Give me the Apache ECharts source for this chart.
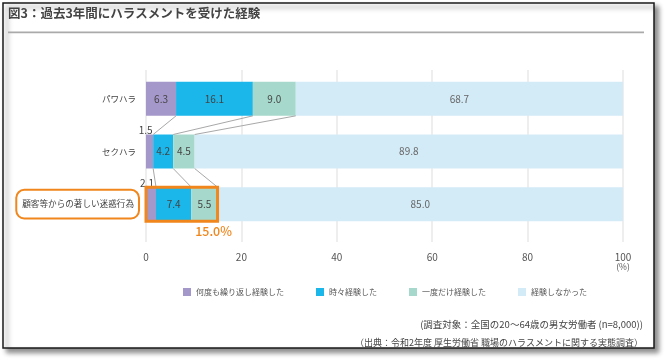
<!DOCTYPE html>
<html><head><meta charset="utf-8">
<script src="https://cdn.jsdelivr.net/npm/echarts@6/dist/echarts.min.js"></script>
<style>html,body{margin:0;padding:0;background:#fff}#c{width:665px;height:361px}</style>
</head><body><div id="c"></div>
<script>
const categories = ['パワハラ', 'セクハラ', '顧客等からの著しい迷惑行為'];
const seriesNames = ['何度も繰り返し経験した', '時々経験した', '一度だけ経験した', '経験しなかった'];
const repeated = [6.3, 1.5, 2.1];
const sometimes = [16.1, 4.2, 7.4];
const once = [9.0, 4.5, 5.5];
const never = [68.7, 89.8, 85.0];
const xTicks = [0, 20, 40, 60, 80, 100];
const highlightIndex = 2;
const titleText = '図3：過去3年間にハラスメントを受けた経験';
const note1 = '(調査対象：全国の20～64歳の男女労働者 (n=8,000))';
const note2 = '（出典：令和2年度 厚生労働省 職場のハラスメントに関する実態調査）';

const FONT = '"Noto Sans CJK JP", "Noto Sans", sans-serif';
const colors = ['#a497c9', '#1bb6ea', '#a6d9cb', '#d3eaf7'];
const BAR_H = 34;
const ORANGE = '#f0861c';
const allSeries = [repeated, sometimes, once, never];

// cumulative boundaries
const cum = categories.map((c, i) => {
  let s = 0; return allSeries.slice(0, 3).map(arr => (s += arr[i]));
});
const connectorData = [];
for (let i = 0; i < categories.length - 1; i++) {
  for (let j = 0; j < 3; j++) connectorData.push([cum[i][j], i, cum[i + 1][j], i + 1]);
}
const hlTotal = +(repeated[highlightIndex] + sometimes[highlightIndex] + once[highlightIndex]).toFixed(1);

function mkData(arr) {
  return arr.map(v => {
    if (v < 3) {
      return { value: v, label: { show: true, position: 'top', distance: 0, offset: [-4, 1] } };
    }
    return v;
  });
}

const barSeries = allSeries.map((arr, k) => ({
  name: seriesNames[k], type: 'bar', stack: 'all', xAxisIndex: 1, yAxisIndex: 0,
  barWidth: BAR_H, itemStyle: { color: colors[k] },
  label: { show: true, position: 'inside', color: k === 3 ? '#666' : '#444', fontSize: 10, fontFamily: FONT,
    formatter: p => p.value.toFixed(1) },
  data: mkData(arr), z: 2
}));

const chart = echarts.init(document.getElementById('c'), null, { renderer: 'canvas' });
chart.setOption({
  backgroundColor: '#fff',
  animation: false,
  textStyle: { fontFamily: FONT },
  graphic: [
    { type: 'rect', z: -100, shape: { x: 3, y: 3, width: 651, height: 345 },
      style: { fill: '#fff', stroke: '#1a1a1a', lineWidth: 1.5, shadowBlur: 5, shadowOffsetX: 4, shadowOffsetY: 4, shadowColor: 'rgba(0,0,0,0.45)' } },
    { type: 'text', left: 8, top: 7, style: { text: titleText, font: 'bold 12.5px ' + FONT, fill: '#444' } },
    { type: 'rect', shape: { x: 8, y: 31.5, width: 636, height: 1.8 }, style: { fill: '#aaaaaa' } },
    { type: 'text', x: 623, y: 267, style: { text: '(%)', font: '8.5px ' + FONT, fill: '#555', align: 'center', verticalAlign: 'middle' } },
    { type: 'text', x: 643, y: 324, style: { text: note1, font: '9.5px ' + FONT, fill: '#444', align: 'right', verticalAlign: 'middle' } },
    { type: 'text', x: 643, y: 342.5, style: { text: note2, font: '9px ' + FONT, fill: '#444', align: 'right', verticalAlign: 'middle' } }
  ],
  legend: {
    data: seriesNames, top: 283, left: 178, itemWidth: 8, itemHeight: 8, itemGap: 32,
    textStyle: { fontSize: 8, color: '#555', fontFamily: FONT }, icon: 'rect'
  },
  grid: [
    { left: 146, right: 42, top: 70, bottom: 119 },
    { left: 146, right: 42, top: 72.5, bottom: 130.5 }
  ],
  xAxis: [
    { gridIndex: 0, type: 'value', min: 0, max: 100, interval: 20,
      axisLine: { show: false }, axisTick: { show: false },
      splitLine: { lineStyle: { color: '#e8e8e8', width: 1.5 } },
      axisLabel: { color: '#555', fontSize: 10, margin: 10, fontFamily: FONT,
        formatter: v => xTicks.includes(v) ? String(v) : '' } },
    { gridIndex: 1, type: 'value', min: 0, max: 100, show: false, splitLine: { show: false } }
  ],
  yAxis: [
    { gridIndex: 1, type: 'category', data: categories, inverse: true,
      axisLine: { show: false }, axisTick: { show: false },
      axisLabel: { margin: 7, fontFamily: FONT,
        formatter: (v, i) => i === highlightIndex ? '{hl|' + v + '}' : '{n|' + v + '}',
        rich: {
          n: { fontSize: 8.5, color: '#444', padding: [0, 3, 0, 0], fontFamily: FONT },
          hl: { fontSize: 8.6, color: '#444', borderColor: ORANGE, borderWidth: 2, borderRadius: 8,
            padding: [10, 5, 10, 6], fontFamily: FONT }
        } } },
    { gridIndex: 0, type: 'value', show: false }
  ],
  series: barSeries.concat([
    { type: 'custom', xAxisIndex: 1, yAxisIndex: 0, z: 3, silent: true,
      data: connectorData,
      encode: { x: [0, 2], y: [1, 3] },
      renderItem: (params, api) => {
        const p1 = api.coord([api.value(0), api.value(1)]);
        const p2 = api.coord([api.value(2), api.value(3)]);
        return { type: 'line', shape: { x1: p1[0], y1: p1[1] + BAR_H / 2, x2: p2[0], y2: p2[1] - BAR_H / 2 },
          style: { stroke: '#a8a8a8', lineWidth: 1 } };
      } },
    { type: 'custom', xAxisIndex: 1, yAxisIndex: 0, z: 4, silent: true,
      data: [[hlTotal, highlightIndex]],
      encode: { x: 0, y: 1 },
      renderItem: (params, api) => {
        const p0 = api.coord([0, api.value(1)]);
        const p1 = api.coord([api.value(0), api.value(1)]);
        return { type: 'group', children: [
          { type: 'rect', shape: { x: p0[0], y: p0[1] - BAR_H / 2, width: p1[0] - p0[0], height: BAR_H },
            style: { fill: 'none', stroke: ORANGE, lineWidth: 3 } },
          { type: 'text', x: p1[0] - 4, y: p1[1] + BAR_H / 2 + 10,
            style: { text: api.value(0).toFixed(1) + '%', font: '500 12.5px ' + FONT, fill: ORANGE, align: 'center', verticalAlign: 'middle' } }
        ] };
      } }
  ])
});
</script></body></html>
